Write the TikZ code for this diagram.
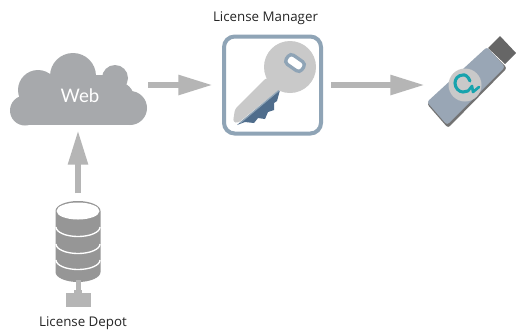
\documentclass[tikz,border=0pt]{standalone}
\usepackage{fontspec}
\setmainfont{Open Sans}
\newfontfamily\weblabel{Lato}
\usetikzlibrary{arrows.meta}
\definecolor{arrowgray}{HTML}{B5B5B5}
\definecolor{cloudgray}{HTML}{A7A9AC}
\definecolor{framegray}{HTML}{8FA4B6}
\definecolor{keygray}{HTML}{C9C9C9}
\definecolor{keyblue}{HTML}{4F6D8C}
\definecolor{bodygray}{HTML}{99A6B5}
\definecolor{plugdark}{HTML}{666666}
\definecolor{drumgray}{HTML}{969696}
\definecolor{logoteal}{HTML}{17A3AD}
\tikzset{
  x=0.75pt,y=-0.75pt,
  bigarrow/.style={draw=arrowgray,line width=4.8pt,-{Triangle[length=26pt,width=14pt]}},
  caption/.style={font=\fontsize{10}{12}\selectfont,text=black!85},
  slot/.style={inner sep=0pt,outer sep=0pt}
}
\begin{document}
\begin{tikzpicture}
\path[use as bounding box,fill=white] (0,0) rectangle (516,330);
% cloud
\fill[cloudgray] (25,110.5) circle[radius=15];
\fill[cloudgray] (38,90) circle[radius=20];
\fill[cloudgray] (73,76) circle[radius=23];
\fill[cloudgray] (115,78) circle[radius=13];
\fill[cloudgray] (130,108) circle[radius=17];
\fill[cloudgray] (118,98) circle[radius=16];
\fill[cloudgray] (25,97) rectangle (132,125);
\fill[cloudgray] (45,75) rectangle (112,125);
\node[slot,minimum width=136*0.75pt,minimum height=68*0.75pt,text=white] (web) at (80,96)
  {\weblabel\fontsize{14}{16}\selectfont Web};
% license manager
\node[slot,draw=framegray,line width=3pt,rounded corners=8pt,minimum width=97*0.75pt,minimum height=97*0.75pt] (manager) at (272.5,85) {};
\node[slot,caption,anchor=center] (managerlabel) at (265.5,18) {License Manager};
% key
\fill[keyblue] (280,90) -- (277,101) -- (274,103) -- (274,110) -- (268,112) -- (265,119) -- (258,118) -- (254,123) -- (245,122) -- (237,125) -- cycle;
\fill[keygray,rounded corners=2pt] (266,78) -- (235,109) -- (233,122) -- (238,123) -- (281,88) -- (292,80) -- cycle;
\draw[framegray,line width=1pt] (280,89.5) -- (240,123);
\fill[keygray] (290,67) circle[radius=26];
\begin{scope}[shift={(295,63)},rotate=-35]
 \fill[white,draw=framegray,line width=2.5pt,rounded corners=3pt] (-9.5,-5.5) rectangle (9.5,5.5);
\end{scope}
% dongle
\node[slot,minimum width=82*0.75pt,minimum height=92*0.75pt] (dongle) at (466,85) {};
\fill[plugdark] (488,48) -- (500,36) -- (516,53) -- (505,64) -- cycle;
\fill[black!55,rounded corners=2pt] (427,104) -- (448,128) -- (507,68) -- (488,49) -- cycle;
\fill[bodygray,rounded corners=2pt] (427,102) -- (447,125) -- (505,67) -- (487,47) -- cycle;
\fill[keygray] (465,85) circle[radius=16.5];
\draw[logoteal,line width=2.3pt,line cap=round] (470,81) .. controls (468,76) and (465,74.5) .. (463,75) .. controls (458,75) and (455,79) .. (455,83) .. controls (455,88) and (459,92) .. (463,92) -- (468,91);
\draw[logoteal,line width=2pt,line cap=round,line join=round] (468,91) -- (472,86) -- (473,92) -- (479,87);
% depot
\node[slot,minimum width=46*0.75pt,minimum height=117*0.75pt] (depot) at (78,251.5) {};
\fill[drumgray] (55.5,211) -- (55.5,272) arc[start angle=180,end angle=0,x radius=22.5,y radius=10] -- (100.5,211) arc[start angle=0,end angle=-180,x radius=22.5,y radius=10] -- cycle;
\fill[white] (78,211) ellipse[x radius=21.5,y radius=8.5];
\draw[white,line width=1pt] (56,227) arc[start angle=180,end angle=0,x radius=22,y radius=9.5];
\draw[white,line width=1pt] (56,244) arc[start angle=180,end angle=0,x radius=22,y radius=9.5];
\draw[white,line width=1pt] (56,260) arc[start angle=180,end angle=0,x radius=22,y radius=9.5];
\fill[arrowgray] (75.5,280) rectangle (80.5,294);
\fill[arrowgray] (66,293) rectangle (91,307);
\fill[arrowgray] (74,290) rectangle (82,295);
\node[slot,caption] (depotlabel) at (83,323) {License Depot};
% connectors
\draw[bigarrow,shorten >=8.25pt] (web.east |- manager.west) -- (manager.west);
\draw[bigarrow,shorten <=7.5pt] (manager.east) -- (dongle.west);
\draw[bigarrow] (depot.north) -- (web.south -| depot.north);
\end{tikzpicture}
\end{document}
